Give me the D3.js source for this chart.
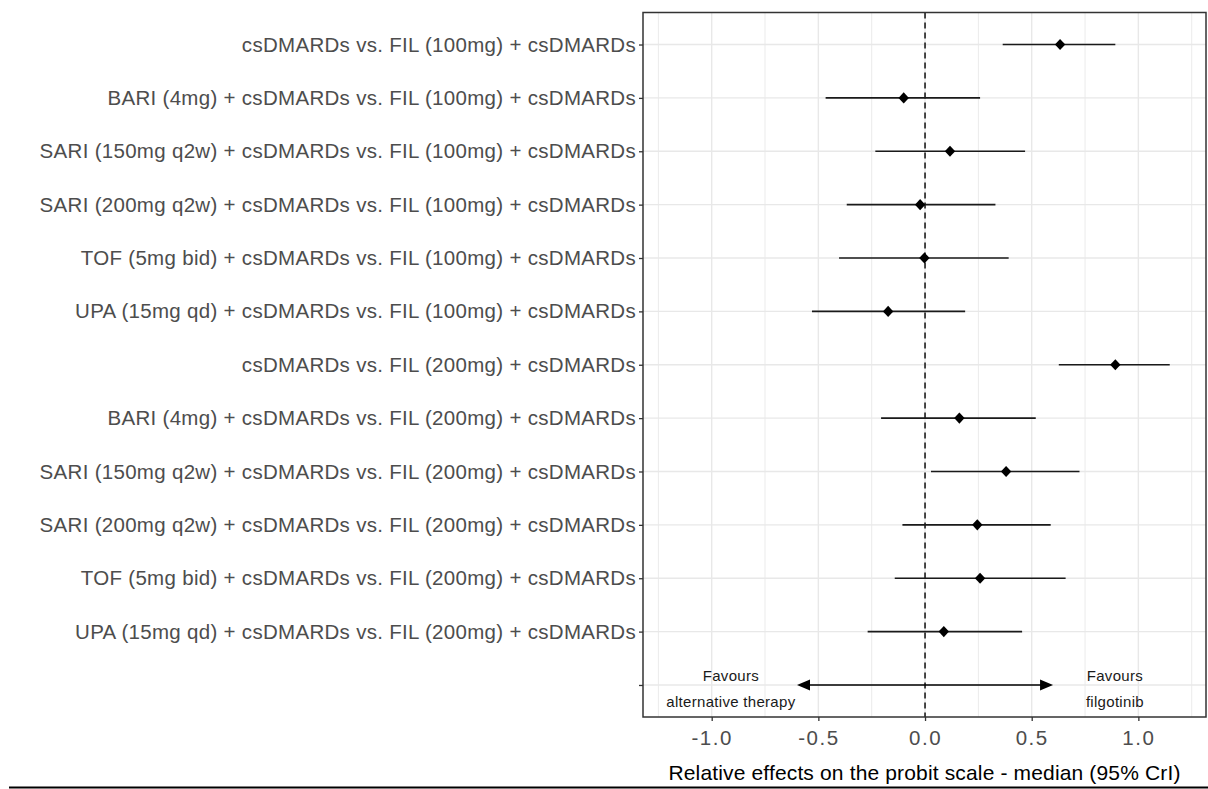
<!DOCTYPE html>
<html>
<head>
<meta charset="utf-8">
<script src="https://cdn.jsdelivr.net/npm/d3@7"></script>
<style>
  html, body { margin: 0; padding: 0; background: #fff; }
  svg { display: block; font-family: "Liberation Sans", Arial, sans-serif; }
</style>
</head>
<body>
<svg id="chart" width="1208" height="789"></svg>
<script>
// ---- data (top to bottom) ----
const comparisons = [
  "csDMARDs vs. FIL (100mg) + csDMARDs",
  "BARI (4mg) + csDMARDs vs. FIL (100mg) + csDMARDs",
  "SARI (150mg q2w) + csDMARDs vs. FIL (100mg) + csDMARDs",
  "SARI (200mg q2w) + csDMARDs vs. FIL (100mg) + csDMARDs",
  "TOF (5mg bid) + csDMARDs vs. FIL (100mg) + csDMARDs",
  "UPA (15mg qd) + csDMARDs vs. FIL (100mg) + csDMARDs",
  "csDMARDs vs. FIL (200mg) + csDMARDs",
  "BARI (4mg) + csDMARDs vs. FIL (200mg) + csDMARDs",
  "SARI (150mg q2w) + csDMARDs vs. FIL (200mg) + csDMARDs",
  "SARI (200mg q2w) + csDMARDs vs. FIL (200mg) + csDMARDs",
  "TOF (5mg bid) + csDMARDs vs. FIL (200mg) + csDMARDs",
  "UPA (15mg qd) + csDMARDs vs. FIL (200mg) + csDMARDs"
];
const medians = [0.633, -0.100, 0.117, -0.023, -0.003, -0.173, 0.892, 0.161, 0.380, 0.245, 0.258, 0.088];
const lowerCrI = [0.364, -0.466, -0.233, -0.367, -0.403, -0.530, 0.627, -0.206, 0.028, -0.106, -0.142, -0.269];
const upperCrI = [0.892, 0.258, 0.469, 0.330, 0.392, 0.188, 1.147, 0.519, 0.724, 0.589, 0.659, 0.455];
const blankRow = "";
const xTicks = [-1.0, -0.5, 0.0, 0.5, 1.0];
const xMinorTicks = [-1.25, -0.75, -0.25, 0.25, 0.75, 1.25];
const arrowRange = [-0.6, 0.6];
const favoursLeft = ["Favours", "alternative therapy"];
const favoursRight = ["Favours", "filgotinib"];
const favoursLeftX = -0.91;
const favoursRightX = 0.89;
const xTitle = "Relative effects on the probit scale - median (95% CrI)";

// ---- layout ----
const panel = { left: 643, right: 1206, top: 12.5, bottom: 717 };
const svg = d3.select("#chart");

const x = d3.scaleLinear().domain([-1.322, 1.317]).range([panel.left, panel.right]);
const cats = comparisons.concat([blankRow]);
const y = d3.scalePoint().domain(d3.range(cats.length)).range([panel.top, panel.bottom]).padding(0.6);

const data = comparisons.map((c, i) => ({ i, c, m: medians[i], lo: lowerCrI[i], hi: upperCrI[i] }));

// grid
const g = svg.append("g");
g.selectAll(".minor").data(xMinorTicks).enter().append("line")
  .attr("x1", d => x(d)).attr("x2", d => x(d))
  .attr("y1", panel.top).attr("y2", panel.bottom)
  .attr("stroke", "#EBEBEB").attr("stroke-width", 1);
g.selectAll(".major").data(xTicks).enter().append("line")
  .attr("x1", d => x(d)).attr("x2", d => x(d))
  .attr("y1", panel.top).attr("y2", panel.bottom)
  .attr("stroke", "#E8E8E8").attr("stroke-width", 1.4);
g.selectAll(".hgrid").data(d3.range(cats.length)).enter().append("line")
  .attr("x1", panel.left).attr("x2", panel.right)
  .attr("y1", d => y(d)).attr("y2", d => y(d))
  .attr("stroke", "#E8E8E8").attr("stroke-width", 1.4);

// reference line
svg.append("line")
  .attr("x1", x(0)).attr("x2", x(0))
  .attr("y1", panel.top).attr("y2", panel.bottom)
  .attr("stroke", "#000").attr("stroke-width", 1.4)
  .attr("stroke-dasharray", "6,4");

// error bars
svg.selectAll(".ci").data(data).enter().append("line")
  .attr("x1", d => x(d.lo)).attr("x2", d => x(d.hi))
  .attr("y1", d => y(d.i)).attr("y2", d => y(d.i))
  .attr("stroke", "#1a1a1a").attr("stroke-width", 1.7);

// diamonds
svg.selectAll(".pt").data(data).enter().append("path")
  .attr("d", d => {
    const cx = x(d.m), cy = y(d.i), w = 5.2, h = 5.6;
    return `M${cx},${cy - h}L${cx + w},${cy}L${cx},${cy + h}L${cx - w},${cy}Z`;
  })
  .attr("fill", "#000");

// arrow
const ay = y(cats.length - 1);
svg.append("line")
  .attr("x1", x(arrowRange[0]) + 10).attr("x2", x(arrowRange[1]) - 10)
  .attr("y1", ay).attr("y2", ay)
  .attr("stroke", "#000").attr("stroke-width", 1.6);
[[arrowRange[0], 1], [arrowRange[1], -1]].forEach(([v, dir]) => {
  const tx = x(v);
  svg.append("path")
    .attr("d", `M${tx},${ay}L${tx + dir * 13},${ay - 5.5}L${tx + dir * 13},${ay + 5.5}Z`)
    .attr("fill", "#000");
});

// favours text
function favours(lines, xv) {
  svg.append("g").selectAll("text").data(lines).enter().append("text")
    .attr("x", x(xv)).attr("y", (d, k) => 681 + k * 25.5)
    .attr("text-anchor", "middle")
    .style("font-size", "15px").style("letter-spacing", "0.3px")
    .attr("fill", "#1a1a1a")
    .text(d => d);
}
favours(favoursLeft, favoursLeftX);
favours(favoursRight, favoursRightX);

// panel border
svg.append("rect")
  .attr("x", panel.left).attr("y", panel.top)
  .attr("width", panel.right - panel.left).attr("height", panel.bottom - panel.top)
  .attr("fill", "none").attr("stroke", "#333333").attr("stroke-width", 1.5);

// y axis
const yAxis = d3.axisLeft(y).tickSize(4).tickPadding(3).tickFormat(i => cats[i]);
const ya = svg.append("g").attr("transform", `translate(${panel.left},0)`).call(yAxis);
ya.select(".domain").remove();
ya.selectAll(".tick line").attr("stroke", "#333333").attr("stroke-width", 1.3);
ya.selectAll(".tick text")
  .attr("fill", "#4D4D4D")
  .style("font-family", "'Liberation Sans', Arial, sans-serif")
  .style("font-size", "20.5px").style("letter-spacing", "0.3px");

// x axis
const fmt = d3.format(".1f");
const xAxis = d3.axisBottom(x).tickValues(xTicks).tickSize(4).tickPadding(6)
  .tickFormat(d => fmt(d).replace("\u2212", "-"));
const xa = svg.append("g").attr("transform", `translate(0,${panel.bottom})`).call(xAxis);
xa.select(".domain").remove();
xa.selectAll(".tick line").attr("stroke", "#333333").attr("stroke-width", 1.3);
xa.selectAll(".tick text")
  .attr("fill", "#4D4D4D").attr("dy", null).attr("y", 28)
  .style("font-family", "'Liberation Sans', Arial, sans-serif")
  .style("font-size", "20.5px").style("letter-spacing", "1.5px");

// x title
svg.append("text")
  .attr("x", (panel.left + panel.right) / 2).attr("y", 780)
  .attr("text-anchor", "middle")
  .style("font-size", "21px").style("letter-spacing", "0.15px")
  .attr("fill", "#000")
  .text(xTitle);

// bottom rule
svg.append("rect").attr("x", 9).attr("y", 786.5).attr("width", 1199).attr("height", 2).attr("fill", "#000");
</script>
</body>
</html>
